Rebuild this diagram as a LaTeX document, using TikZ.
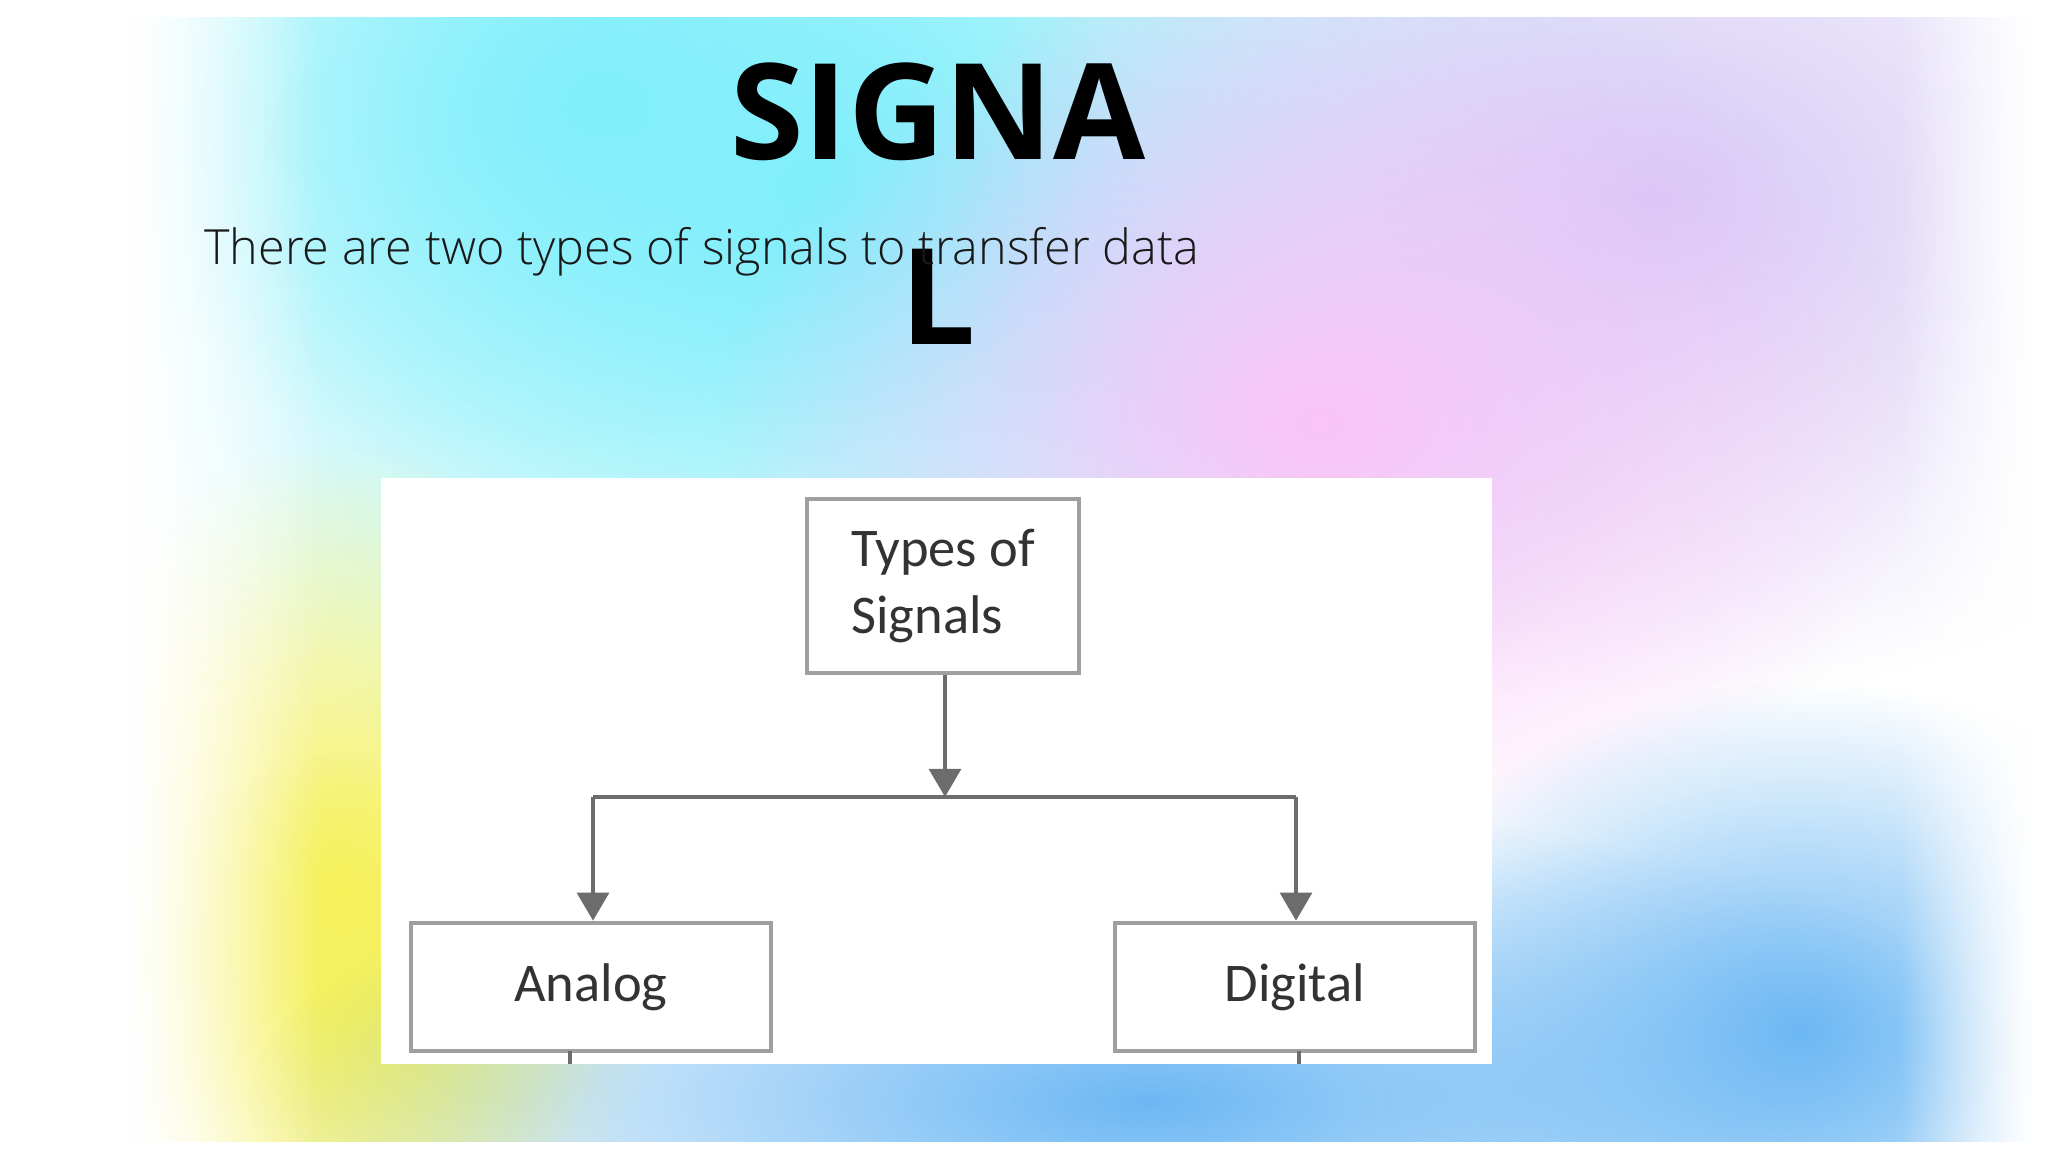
\documentclass[tikz,border=0pt]{standalone}
\usepackage{fontspec}
\setmainfont{Open Sans}
\newfontfamily\light{Open Sans Light}
\newfontfamily\carl{Carlito}
\usetikzlibrary{fadings,arrows.meta}
\tikzfading[name=soft, inner color=transparent!0, outer color=transparent!100]
\tikzfading[name=fadeR, left color=transparent!0, right color=transparent!100]
\tikzfading[name=fadeL, left color=transparent!100, right color=transparent!0]
\tikzset{
 blob/.style={path fading=soft},
 sbox/.style={draw=gray!75,line width=1.3pt,minimum width=3.6cm,minimum height=1.28cm,font=\carl\fontsize{15.5}{19}\selectfont,text=black!80},
 conn/.style={draw=gray!85!black,line width=1.3pt},
 tip/.style={-{Triangle[length=8pt,width=9pt]}}
}
\definecolor{aqua}{HTML}{7FEFFB}
\definecolor{pinkish}{HTML}{FAC4F8}
\definecolor{lav}{HTML}{D4C8F6}
\definecolor{sky}{HTML}{6CB8F4}
\definecolor{yel}{HTML}{F6F15A}
\begin{document}
\begin{tikzpicture}
\useasboundingbox (0,0) rectangle (20.48,11.52);
\fill[white] (0,0) rectangle (20.48,11.52);
\begin{scope}
\clip (1.3,0.1) rectangle (20.3,11.34);
\fill[aqua,blob] (8.3,9.6) ellipse (9cm and 7cm);
\fill[aqua,blob] (6,10.5) ellipse (5cm and 4cm);
\fill[lav,blob] (16.5,9.5) ellipse (7cm and 5cm);
\fill[pinkish,blob] (13.2,7.3) ellipse (6cm and 4.5cm);
\fill[yel,blob] (3.4,2.6) ellipse (3.5cm and 4.5cm);
\fill[yel,blob] (3.6,1.5) ellipse (2.5cm and 2.5cm);
\fill[sky,blob] (11.5,0.5) ellipse (9cm and 3cm);
\fill[sky,blob] (18,1.2) ellipse (4.5cm and 3.5cm);
\fill[white,path fading=fadeR] (1.3,0) rectangle (3.2,11.52);
\fill[white,path fading=fadeL] (19.0,0) rectangle (20.31,11.52);
\end{scope}
\node[font=\fontsize{38}{40}\selectfont\bfseries] (t1) at (9.38,10.4) {SIGNA};
\node[font=\fontsize{38}{40}\selectfont\bfseries] (t2) at (9.38,8.55) {L};
\node[anchor=west,font=\light\fontsize{13.8}{16}\selectfont,text=black!90] (sub) at (1.92,9.0) {There are two types of signals to transfer data};
\fill[white] (3.81,0.88) rectangle (14.92,6.74);
\node[sbox,minimum width=2.72cm,minimum height=1.74cm,align=left] (types) at (9.43,5.66) {Types of\\Signals};
\node[sbox] (analog) at (5.91,1.65) {Analog};
\node[sbox] (digital) at (12.95,1.65) {Digital};
\coordinate (j) at (9.45,3.55);
\coordinate (jl) at (5.93,3.55);
\coordinate (jr) at (12.96,3.55);
\draw[conn,tip] (types.south -| j) -- (j);
\draw[conn] (jl) -- (jr);
\draw[conn,tip] (jl) -- (analog.north -| jl);
\draw[conn,tip] (jr) -- (digital.north -| jr);
\draw[conn] (5.7,1.01) -- (5.7,0.88);
\draw[conn] (12.99,1.01) -- (12.99,0.88);
\end{tikzpicture}
\end{document}
